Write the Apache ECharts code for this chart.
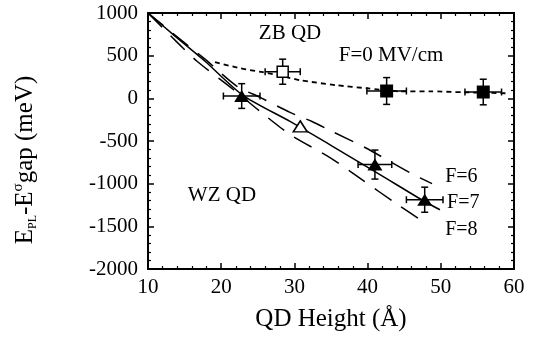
<!DOCTYPE html>
<html>
<head>
<meta charset="utf-8">
<script src="https://cdn.jsdelivr.net/npm/echarts@6/dist/echarts.min.js"></script>
<style>
html,body{margin:0;padding:0;background:#fff;}
#c{width:537px;height:345px;}
</style>
</head>
<body>
<div id="c"></div>
<script>
// ---- data ----
const xTicks = [10, 20, 30, 40, 50, 60];
const yTicks = [-2000, -1500, -1000, -500, 0, 500, 1000];

// theory curves (QD height in Å, energy in meV)
const f0X = [19.15, 22.57, 25.71, 28.44, 30.77, 35.82, 39.92, 44.43, 48.52, 53.03, 59.04];
const f0Y = [424, 353, 306, 259, 212, 153, 118, 82, 82, 71, 59];

const f6X = [10, 13.69, 17.79, 22.16, 25.30, 29.40, 32.40, 35.14, 39.64, 45.79, 48.80];
const f6Y = [1000, 741, 459, 141, 12, -165, -271, -388, -576, -871, -1000];

const f7X = [10, 13.69, 17.79, 22.98, 29.40, 35.27, 41.69, 47.84, 49.89];
const f7Y = [1000, 729, 435, 35, -271, -565, -894, -1212, -1306];

const f8X = [10, 14.10, 16.69, 21.61, 25.30, 29.40, 34.86, 39.23, 43.74, 48.25];
const f8Y = [1000, 647, 435, 106, -153, -424, -694, -953, -1224, -1482];

// measured points
const zbOpenX = [28.4], zbOpenY = [312], zbOpenXErr = [2.4], zbOpenYErr = [147];
const zbFillX = [42.6, 55.8], zbFillY = [86, 74], zbFillXErr = [2.7, 2.5], zbFillYErr = [157, 150];
const wzFillX = [22.8, 41.0, 47.8], wzFillY = [27, -776, -1188], wzFillXErr = [2.5, 2.3, 2.5], wzFillYErr = [145, 170, 147];
const wzOpenX = [30.8], wzOpenY = [-329];

// annotations
const annText = ['ZB QD', 'F=0 MV/cm', 'WZ QD', 'F=6', 'F=7', 'F=8'];
const annX = [29.4, 43.2, 20.1, 50.6, 50.85, 50.6];
const annY = [765, 506, -1141, -918, -1224, -1541];
const annAlign = ['center', 'center', 'center', 'left', 'left', 'left'];

// ---- build ----
const FONT = '"Liberation Serif", "Times New Roman", serif';
const zip = (a, b) => a.map((v, i) => [v, b[i]]);
const zip4 = (a, b, c, d) => a.map((v, i) => [v, b[i], c[i], d[i]]);

function errRender(params, api) {
  const x = api.value(0), y = api.value(1), ex = api.value(2), ey = api.value(3);
  const l = api.coord([x - ex, y]), r = api.coord([x + ex, y]);
  const t = api.coord([x, y + ey]), b = api.coord([x, y - ey]);
  const cap = 3.5;
  const st = {stroke: '#000', lineWidth: 1.5};
  const ln = (x1, y1, x2, y2) => ({type: 'line', shape: {x1, y1, x2, y2}, style: st});
  return {type: 'group', children: [
    ln(l[0], l[1], r[0], r[1]),
    ln(t[0], t[1], b[0], b[1]),
    ln(l[0], l[1] - cap, l[0], l[1] + cap),
    ln(r[0], r[1] - cap, r[0], r[1] + cap),
    ln(t[0] - cap, t[1], t[0] + cap, t[1]),
    ln(b[0] - cap, b[1], b[0] + cap, b[1])
  ]};
}

const axisCommon = {
  axisLine: {show: true, onZero: false, lineStyle: {color: '#000', width: 2}},
  axisTick: {show: true, inside: true, length: 6, lineStyle: {color: '#000', width: 1.5}},
  minorTick: {show: true, splitNumber: 5, length: 3, lineStyle: {color: '#000', width: 1.2}},
  splitLine: {show: false},
  minorSplitLine: {show: false}
};

const xBase = Object.assign({type: 'value', min: xTicks[0], max: xTicks[xTicks.length - 1], interval: 10}, axisCommon);
const yBase = Object.assign({type: 'value', min: yTicks[0], max: yTicks[yTicks.length - 1], interval: 500}, axisCommon);

const chart = echarts.init(document.getElementById('c'), null, {renderer: 'canvas'});
const lineSeries = (name, xs, ys, type, w) => ({
  type: 'line', name, data: zip(xs, ys), showSymbol: false, symbol: 'none', smooth: 0.25,
  lineStyle: {color: '#000', width: w || 1.5, type: type}, z: 2, silent: true
});
const plain = v => String(v);

chart.setOption({
  animation: false,
  backgroundColor: '#fff',
  grid: {left: 148, right: 23, top: 13, bottom: 76, containLabel: false},
  xAxis: [
    Object.assign({}, xBase, {
      position: 'bottom',
      axisLabel: {color: '#000', fontFamily: FONT, fontSize: 21, margin: 8, formatter: plain},
      name: 'QD Height (Å)', nameLocation: 'middle', nameGap: 38,
      nameTextStyle: {color: '#000', fontFamily: FONT, fontSize: 25}
    }),
    Object.assign({}, xBase, {position: 'top', axisLabel: {show: false}})
  ],
  yAxis: [
    Object.assign({}, yBase, {
      position: 'left',
      axisLabel: {color: '#000', fontFamily: FONT, fontSize: 21, margin: 10, formatter: plain}
    }),
    Object.assign({}, yBase, {position: 'right', axisLabel: {show: false}})
  ],
  graphic: [{
    type: 'text', x: 25, y: 160, rotation: Math.PI / 2,
    style: {
      text: '{a|E}{sub|PL}{a|-E}{sup|σ}{a|gap (meV)}',
      align: 'center', verticalAlign: 'middle',
      fill: '#000',
      rich: {
        a: {fontFamily: FONT, fontSize: 25, lineHeight: 28, fill: '#000'},
        sub: {fontFamily: FONT, fontSize: 12, lineHeight: 12, verticalAlign: 'bottom', fill: '#000'},
        sup: {fontFamily: FONT, fontSize: 15, lineHeight: 15, verticalAlign: 'top', fill: '#000'}
      }
    }
  }],
  series: [
    lineSeries('F=0', f0X, f0Y, [5, 4], 1.8),
    lineSeries('F=6', f6X, f6Y, [20, 12]),
    lineSeries('F=7', f7X, f7Y, 'solid'),
    lineSeries('F=8', f8X, f8Y, [20, 12]),
    {type: 'custom', renderItem: errRender, data: zip4(zbOpenX, zbOpenY, zbOpenXErr, zbOpenYErr), z: 3, silent: true},
    {type: 'custom', renderItem: errRender, data: zip4(zbFillX, zbFillY, zbFillXErr, zbFillYErr), z: 3, silent: true},
    {type: 'custom', renderItem: errRender, data: zip4(wzFillX, wzFillY, wzFillXErr, wzFillYErr), z: 3, silent: true},
    {type: 'scatter', data: zip(zbOpenX, zbOpenY), symbol: 'rect', symbolSize: 11,
      itemStyle: {color: '#fff', borderColor: '#000', borderWidth: 1.5, opacity: 1}, z: 4, silent: true},
    {type: 'scatter', data: zip(zbFillX, zbFillY), symbol: 'rect', symbolSize: 13,
      itemStyle: {color: '#000', opacity: 1}, z: 4, silent: true},
    {type: 'scatter', data: zip(wzFillX, wzFillY), symbol: 'triangle', symbolSize: [15, 12],
      itemStyle: {color: '#000', opacity: 1}, z: 4, silent: true},
    {type: 'scatter', data: zip(wzOpenX, wzOpenY), symbol: 'triangle', symbolSize: [14, 11],
      itemStyle: {color: '#fff', borderColor: '#000', borderWidth: 1.5, opacity: 1}, z: 4, silent: true},
    {type: 'scatter', symbolSize: 0, silent: true, z: 5,
      itemStyle: {opacity: 1},
      data: annText.map((t, i) => ({
        value: [annX[i], annY[i]],
        label: {show: true, formatter: t, position: 'inside', align: annAlign[i], verticalAlign: 'middle',
          color: '#000', opacity: 1, fontFamily: FONT, fontSize: i < 3 ? 21 : 20}
      }))
    }
  ]
});
</script>
</body>
</html>
